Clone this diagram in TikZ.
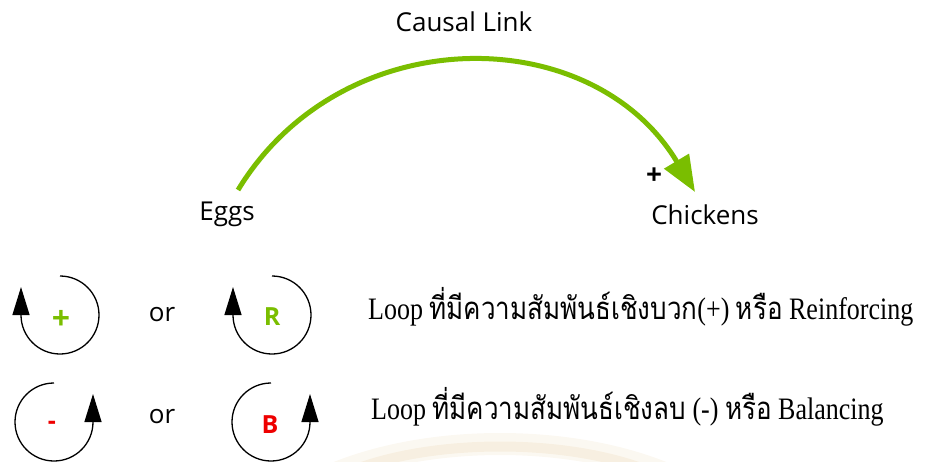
\documentclass[tikz,border=0pt]{standalone}
\usepackage{fontspec}
\usepackage{graphicx}
\setmainfont{Open Sans}
\newfontfamily\thaifont[Script=Thai]{Loma}
\newfontfamily\latinserif{Liberation Serif}
\usetikzlibrary{arrows.meta}
\definecolor{linkgreen}{RGB}{122,190,0}
\definecolor{loopred}{RGB}{238,0,0}
\definecolor{faintbeige}{RGB}{244,234,214}
\newcommand{\tallline}[1]{\scalebox{1}[1.2]{#1}}
\begin{document}
\begin{tikzpicture}[x=1pt,y=-1pt,
  lbl/.style={font=\fontsize{26}{30}\selectfont, inner sep=0pt},
  signlbl/.style={font=\bfseries\fontsize{25}{28}\selectfont, inner sep=0pt},
  pluslbl/.style={font=\bfseries\fontsize{32}{34}\selectfont, inner sep=0pt},
  causal/.style={draw=linkgreen, line width=5pt,
    -{Triangle[length=36pt,width=28pt]}},
  loopline/.style={draw=black, line width=1.3pt,
    -{Triangle[length=28pt,width=17pt]}},
  legend/.style={anchor=west, inner sep=0pt, font=\latinserif\fontsize{26}{30}\selectfont}
]
\useasboundingbox (0,0) rectangle (926,461);

% faint decorative band along the lower edge
\draw[faintbeige, line width=22pt, opacity=0.35]
  (320,480) .. controls (420,432) and (580,432) .. (680,480);
\draw[faintbeige, line width=10pt, opacity=0.6]
  (335,478) .. controls (420,436) and (580,436) .. (665,478);

% causal link between the two variables
\node[lbl] (title) at (464,22) {Causal Link};
\node[lbl] (eggs) at (227,214) {Eggs};
\node[lbl] (chickens) at (705,215) {Chickens};
\node[pluslbl, font=\bfseries\fontsize{28}{30}\selectfont] (plus) at (654,176) {+};
\coordinate (linkstart) at (238,190);
\coordinate (linkend) at (695,192);
\draw[causal] (linkstart) .. controls (342,19) and (592,20) .. (linkend);

% reinforcing loop symbols
\draw[loopline] (60,276) arc[start angle=-90, end angle=180, radius=39] -- ++(0,-28);
\node[pluslbl, text=linkgreen] (rplus) at (61,320) {+};
\node[lbl] (or1) at (162,315) {or};
\draw[loopline] (272,276) arc[start angle=-90, end angle=180, radius=39] -- ++(0,-28);
\node[signlbl, text=linkgreen] (rletter) at (272,317) {R};

% balancing loop symbols
\draw[loopline] (54,383) arc[start angle=-90, end angle=-360, radius=39] -- ++(0,-28);
\node[signlbl, text=loopred] (bminus) at (52,425) {-};
\node[lbl] (or2) at (162,417) {or};
\draw[loopline] (271,383) arc[start angle=-90, end angle=-360, radius=39] -- ++(0,-28);
\node[signlbl, text=loopred] (bletter) at (270,425) {B};

% legend texts
\node[legend] (reinf) at (368,307)
  {\tallline{Loop {\thaifont ที่มีความสัมพันธ์เชิงบวก}(+) {\thaifont หรือ} Reinforcing}};
\node[legend] (bal) at (371,407)
  {\tallline{Loop {\thaifont ที่มีความสัมพันธ์เชิงลบ} (-) {\thaifont หรือ} Balancing}};
\end{tikzpicture}
\end{document}
